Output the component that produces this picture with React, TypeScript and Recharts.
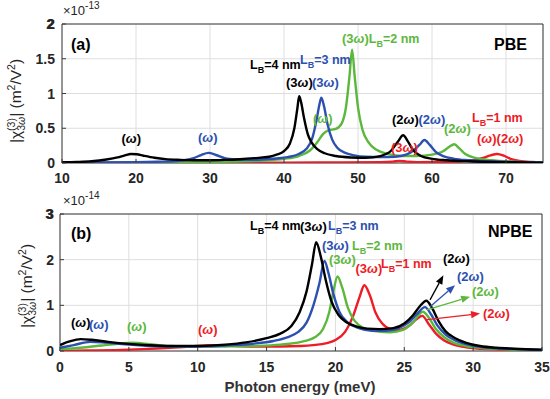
import React from 'react';
import { LineChart, Line, XAxis, YAxis, CartesianGrid, ReferenceArea, ReferenceLine } from 'recharts';

const FONT = '"Liberation Sans", Arial, Helvetica, sans-serif';
const BLACK = '#000000';
const BLUE = '#2b50b0';
const GREEN = '#5cb83c';
const RED = '#ee1c25';
const AXIS = '#3a3a3a';

// ---------- Panel (a) PBE : photon energy (meV) vs |chi| (x1e-13 m^2/V^2)
const pbeXTicks = [10, 20, 30, 40, 50, 60, 70];
const pbeYTicks = [0, 0.5, 1, 1.5, 2];

const pbeL4: [number, number][] = [
  [10, 0.01], [12, 0.015], [14, 0.025], [16, 0.05], [17.5, 0.08], [18.5, 0.11], [19.3, 0.13], [20.1, 0.125],
  [21, 0.105], [22.5, 0.075], [24, 0.055], [26, 0.045], [28, 0.04], [30, 0.04], [32, 0.045], [34, 0.055],
  [36, 0.07], [38, 0.09], [39, 0.12], [40, 0.17], [40.8, 0.28], [41.4, 0.5], [41.8, 0.78], [42.05, 0.96],
  [42.3, 0.88], [42.7, 0.65], [43.2, 0.42], [43.7, 0.3], [44.5, 0.2], [45.5, 0.14], [47, 0.1], [49, 0.08],
  [51, 0.075], [53, 0.1], [54.5, 0.18], [55.4, 0.31], [56.1, 0.4], [56.8, 0.3], [57.5, 0.18], [58.5, 0.1],
  [60, 0.06], [62, 0.04], [65, 0.025], [70, 0.012], [75, 0.005],
];
const pbeL3: [number, number][] = [
  [10, 0.005], [15, 0.008], [20, 0.012], [23, 0.018], [25, 0.025], [26.5, 0.04], [27.8, 0.07], [28.8, 0.115],
  [29.8, 0.145], [30.8, 0.115], [32, 0.07], [33.5, 0.05], [35, 0.045], [37, 0.05], [39, 0.065], [40.5, 0.085],
  [42, 0.13], [43, 0.2], [43.8, 0.35], [44.4, 0.62], [44.8, 0.85], [45.05, 0.94], [45.4, 0.82], [45.9, 0.55],
  [46.5, 0.34], [47.2, 0.22], [48.2, 0.15], [49.5, 0.11], [51, 0.09], [53, 0.085], [55, 0.09], [56.5, 0.12],
  [57.5, 0.18], [58.3, 0.26], [59, 0.33], [59.7, 0.26], [60.5, 0.16], [61.5, 0.1], [63, 0.06], [65, 0.04],
  [68, 0.025], [71, 0.015], [75, 0.008],
];
const pbeL2: [number, number][] = [
  [10, 0.003], [20, 0.006], [28, 0.012], [33, 0.02], [37, 0.035], [40, 0.06], [42, 0.1], [43.5, 0.18],
  [44.5, 0.3], [45.3, 0.42], [46, 0.47], [47, 0.49], [47.8, 0.57], [48.4, 0.82], [48.85, 1.25], [49.2, 1.63],
  [49.55, 1.25], [50, 0.8], [50.6, 0.48], [51.4, 0.3], [52.5, 0.19], [54, 0.13], [56, 0.1], [58, 0.1],
  [60, 0.12], [61.5, 0.17], [62.3, 0.23], [63, 0.27], [63.7, 0.21], [64.5, 0.13], [66, 0.07], [68, 0.04],
  [71, 0.02], [75, 0.01],
];
const pbeL1: [number, number][] = [
  [10, 0.001], [30, 0.003], [40, 0.005], [48, 0.008], [53, 0.012], [54.7, 0.02], [55.6, 0.03], [56.6, 0.02],
  [58, 0.013], [61, 0.014], [63.5, 0.022], [65.5, 0.04], [66.8, 0.07], [67.9, 0.11], [68.8, 0.13], [69.7, 0.105],
  [70.6, 0.06], [71.8, 0.03], [73.5, 0.015], [75, 0.01],
];

// ---------- Panel (b) NPBE : photon energy (meV) vs |chi| (x1e-14 m^2/V^2)
const npbeXTicks = [0, 5, 10, 15, 20, 25, 30, 35];
const npbeYTicks = [0, 1, 2, 3];

const npbeL4: [number, number][] = [
  [0, 0.13], [0.7, 0.21], [1.5, 0.26], [2.3, 0.245], [3.5, 0.2], [5, 0.155], [6.5, 0.125], [8, 0.11],
  [10, 0.11], [12, 0.14], [13.5, 0.19], [15, 0.28], [16, 0.38], [16.8, 0.55], [17.4, 0.85], [17.9, 1.3],
  [18.3, 1.9], [18.6, 2.38], [18.95, 2.05], [19.3, 1.55], [19.7, 1.1], [20.2, 0.8], [20.8, 0.63], [21.5, 0.54],
  [22.3, 0.49], [23.2, 0.48], [24.2, 0.5], [25, 0.6], [25.6, 0.77], [26.1, 0.97], [26.6, 1.1], [27.0, 0.95],
  [27.5, 0.65], [28, 0.43], [28.7, 0.28], [29.5, 0.18], [30.5, 0.11], [31.7, 0.07], [33, 0.05], [35, 0.03],
];
const npbeL3: [number, number][] = [
  [0, 0.07], [1, 0.13], [2.2, 0.2], [3.2, 0.185], [4.5, 0.15], [6, 0.12], [8, 0.1], [10, 0.1],
  [12, 0.12], [14, 0.16], [15.5, 0.22], [16.5, 0.3], [17.3, 0.42], [17.9, 0.62], [18.4, 1.0], [18.85, 1.5],
  [19.2, 1.97], [19.5, 1.7], [19.85, 1.25], [20.3, 0.85], [20.9, 0.62], [21.7, 0.5], [22.7, 0.44], [23.7, 0.44],
  [24.6, 0.5], [25.3, 0.62], [25.9, 0.8], [26.5, 0.96], [26.95, 0.8], [27.4, 0.56], [28, 0.36], [28.7, 0.23],
  [29.5, 0.15], [30.5, 0.09], [32, 0.055], [35, 0.025],
];
const npbeL2: [number, number][] = [
  [0, 0.04], [1.5, 0.07], [3, 0.12], [4.2, 0.16], [5.3, 0.18], [6.5, 0.15], [8, 0.11], [10, 0.095],
  [12, 0.1], [14, 0.11], [16, 0.14], [17.5, 0.2], [18.5, 0.3], [19.1, 0.48], [19.55, 0.85], [19.85, 1.3],
  [20.15, 1.63], [20.5, 1.38], [20.9, 0.95], [21.4, 0.66], [22.1, 0.5], [23, 0.43], [24, 0.41], [24.9, 0.46],
  [25.6, 0.62], [26.35, 0.86], [26.85, 0.7], [27.3, 0.48], [27.9, 0.3], [28.6, 0.18], [29.5, 0.11], [30.5, 0.07],
  [32, 0.04], [35, 0.02],
];
const npbeL1: [number, number][] = [
  [0, 0.0], [2, 0.01], [4, 0.02], [6, 0.04], [8, 0.07], [9.5, 0.1], [10.8, 0.125], [12, 0.12],
  [14, 0.1], [16, 0.1], [17.5, 0.11], [19, 0.15], [20, 0.24], [20.7, 0.42], [21.3, 0.78], [21.75, 1.18],
  [22.1, 1.44], [22.5, 1.22], [22.9, 0.85], [23.4, 0.6], [24, 0.48], [24.6, 0.46], [25.3, 0.54], [25.9, 0.7],
  [26.3, 0.77], [26.8, 0.58], [27.3, 0.38], [27.9, 0.23], [28.6, 0.14], [29.5, 0.08], [31, 0.04], [35, 0.01],
];

// arrows in panel (b): [x1, y1, x2, y2]
const npbeArrowBlack = [26.87, 1.12, 27.84, 1.66];
const npbeArrowBlue = [26.87, 0.97, 28.69, 1.44];
const npbeArrowGreen = [26.63, 0.9, 29.78, 1.19];
const npbeArrowRed = [26.5, 0.68, 30.5, 0.82];

const toPts = (arr: [number, number][]) => arr.map(([x, y]) => ({ x, y }));

function ArrowShape(props: any) {
  const x1 = Number(props.x1), y1 = Number(props.y1), x2 = Number(props.x2), y2 = Number(props.y2);
  const stroke = props.stroke;
  const ang = Math.atan2(y2 - y1, x2 - x1);
  const L = 9, W = 3.6;
  const bx = x2 - L * Math.cos(ang), by = y2 - L * Math.sin(ang);
  const p1x = bx + W * Math.sin(ang), p1y = by - W * Math.cos(ang);
  const p2x = bx - W * Math.sin(ang), p2y = by + W * Math.cos(ang);
  return (
    <g>
      <line x1={x1} y1={y1} x2={bx} y2={by} stroke={stroke} strokeWidth={1.3} />
      <polygon points={`${x2},${y2} ${p1x},${p1y} ${p2x},${p2y}`} fill={stroke} />
    </g>
  );
}

const fmt = (v: number) => String(Math.round(v * 100) / 100);

function XTick(props: any) {
  const { x, y, payload } = props;
  return (
    <text x={x} y={y} dy={10} textAnchor="middle" fontFamily={FONT} fontSize={14} fontWeight={700} fill="#262626">
      {fmt(payload.value)}
    </text>
  );
}

function YTick(props: any) {
  const { x, y, payload } = props;
  return (
    <text x={x} y={y} dy={5} textAnchor="end" fontFamily={FONT} fontSize={14} fontWeight={700} fill="#262626">
      {fmt(payload.value)}
    </text>
  );
}

const NoTick = () => null;

type Series = { data: [number, number][]; color: string; name: string };

function Panel(props: {
  height: number; xDomain: [number, number]; xTicks: number[]; yDomain: [number, number]; yTicks: number[];
  yWidth: number; right: number; xHeight: number; xTickMargin: number; yTickMargin: number;
  series: Series[]; arrows?: { a: number[]; color: string }[];
}) {
  const { height, xDomain, xTicks, yDomain, yTicks, yWidth, right, xHeight, xTickMargin, yTickMargin, series, arrows } = props;
  const topTick = yTicks[yTicks.length - 1];
  return (
    <LineChart width={550} height={height} margin={{ top: 24, right, bottom: 0, left: 0 }}>
      <CartesianGrid stroke="#dedede" strokeWidth={1} />
      <XAxis
        type="number" dataKey="x" domain={xDomain} ticks={xTicks} height={xHeight} allowDataOverflow
        axisLine={false} tickLine={{ stroke: AXIS }} tickSize={-4} tick={XTick} tickMargin={xTickMargin + 10} interval={0}
      />
      <XAxis
        xAxisId="top" orientation="top" type="number" dataKey="x" domain={xDomain} ticks={xTicks} height={0} allowDataOverflow
        axisLine={false} tickLine={{ stroke: AXIS }} tickSize={-4} tick={NoTick} interval={0}
      />
      <YAxis
        type="number" domain={yDomain} ticks={yTicks} width={yWidth} allowDataOverflow
        axisLine={false} tickLine={{ stroke: AXIS }} tickSize={-4} tick={YTick} tickMargin={yTickMargin + 10} interval={0}
      />
      <YAxis
        yAxisId="right" orientation="right" type="number" domain={yDomain} ticks={yTicks} width={0} allowDataOverflow
        axisLine={false} tickLine={{ stroke: AXIS }} tickSize={-4} tick={NoTick} interval={0}
      />
      <ReferenceArea x1={xDomain[0]} x2={xDomain[1]} y1={yDomain[0]} y2={yDomain[1]} fill="none" stroke={AXIS} strokeWidth={1} fillOpacity={0} />
      <ReferenceLine
        y={topTick} stroke="none" ifOverflow="visible"
        label={{ value: fmt(topTick), position: 'left', offset: 7 + yTickMargin - 1 + 1, fill: '#262626', fontSize: 14, fontWeight: 700, fontFamily: FONT }}
      />
      {series.map((s) => (
        <Line
          key={s.name} name={s.name} data={toPts(s.data)} dataKey="y" type="monotone" stroke={s.color}
          strokeWidth={2.4} dot={false} activeDot={false} isAnimationActive={false}
        />
      ))}
      {(arrows || []).map((ar, i) => (
        <ReferenceLine
          key={i}
          segment={[{ x: ar.a[0], y: ar.a[1] }, { x: ar.a[2], y: ar.a[3] }]}
          stroke={ar.color}
          shape={ArrowShape}
        />
      ))}
    </LineChart>
  );
}

function Omega() {
  return <tspan fontStyle="italic">ω</tspan>;
}

function Paren({ n }: { n?: string }) {
  return (
    <>
      <tspan>({n || ''}</tspan>
      <Omega />
      <tspan>)</tspan>
    </>
  );
}

function LB({ v }: { v: string }) {
  return (
    <>
      <tspan fontSize={12.5}>L</tspan>
      <tspan dy={4} fontSize={9}>B</tspan>
      <tspan dy={-4} fontSize={12.5}>={v} nm</tspan>
    </>
  );
}

function Ann({ x, y, color, children }: { x: number; y: number; color: string; children: React.ReactNode }) {
  return (
    <text x={x} y={y} fontFamily={FONT} fontSize={13} fontWeight={700} fill={color}>
      {children}
    </text>
  );
}

function YLabel({ x, y }: { x: number; y: number }) {
  return (
    <text transform={`translate(${x},${y}) rotate(-90)`} textAnchor="middle" fontFamily={FONT} fontSize={15.5} fill="#262626">
      <tspan>|χ</tspan>
      <tspan dy={-6} fontSize={10.5}>(3)</tspan>
      <tspan dx={-12.8} dy={10} fontSize={10.5}>3</tspan>
      <tspan fontSize={10.5} fontStyle="italic">ω</tspan>
      <tspan dy={-4}>| (m</tspan>
      <tspan dy={-6} fontSize={10.5}>2</tspan>
      <tspan dy={6}>/V</tspan>
      <tspan dy={-6} fontSize={10.5}>2</tspan>
      <tspan dy={6}>)</tspan>
    </text>
  );
}

function Exponent({ x, y, e }: { x: number; y: number; e: string }) {
  return (
    <text x={x} y={y} fontFamily={FONT} fontSize={13} fill="#262626">
      <tspan>×10</tspan>
      <tspan dy={-6} fontSize={10}>{e}</tspan>
    </text>
  );
}

export default function App() {
  return (
    <div style={{ position: 'absolute', left: 0, top: 0, width: 550, height: 399, background: '#ffffff', overflow: 'hidden' }}>
      <div style={{ position: 'absolute', left: 0, top: 0 }}>
        <Panel
          height={190} xDomain={[10, 75]} xTicks={pbeXTicks} yDomain={[0, 2]} yTicks={pbeYTicks}
          yWidth={62} right={7} xHeight={27} xTickMargin={4} yTickMargin={1}
          series={[
            { name: 'LB=1 nm', data: pbeL1, color: RED },
            { name: 'LB=2 nm', data: pbeL2, color: GREEN },
            { name: 'LB=3 nm', data: pbeL3, color: BLUE },
            { name: 'LB=4 nm', data: pbeL4, color: BLACK },
          ]}
        />
      </div>
      <div style={{ position: 'absolute', left: 0, top: 190 }}>
        <Panel
          height={209} xDomain={[0, 35]} xTicks={npbeXTicks} yDomain={[0, 3]} yTicks={npbeYTicks}
          yWidth={60} right={8} xHeight={48} xTickMargin={5} yTickMargin={0}
          series={[
            { name: 'LB=1 nm', data: npbeL1, color: RED },
            { name: 'LB=2 nm', data: npbeL2, color: GREEN },
            { name: 'LB=3 nm', data: npbeL3, color: BLUE },
            { name: 'LB=4 nm', data: npbeL4, color: BLACK },
          ]}
          arrows={[
            { a: npbeArrowBlack, color: BLACK },
            { a: npbeArrowBlue, color: BLUE },
            { a: npbeArrowGreen, color: GREEN },
            { a: npbeArrowRed, color: RED },
          ]}
        />
      </div>
      <svg width={550} height={399} style={{ position: 'absolute', left: 0, top: 0, pointerEvents: 'none' }}>
        {/* panel (a) */}
        <Exponent x={63} y={15} e="-13" />
        <YLabel x={21} y={101} />
        <text x={71} y={50} fontFamily={FONT} fontSize={16} fontWeight={700} fill="#000">(a)</text>
        <text x={494} y={49.5} fontFamily={FONT} fontSize={16} fontWeight={700} fill="#000">PBE</text>
        <Ann x={121.5} y={142.5} color={BLACK}><Paren /></Ann>
        <Ann x={198} y={141.5} color={BLUE}><Paren /></Ann>
        <Ann x={250} y={69} color={BLACK}><LB v="4" /></Ann>
        <Ann x={300} y={64} color={BLUE}><LB v="3" /></Ann>
        <Ann x={286} y={87} color={BLACK}><Paren n="3" /></Ann>
        <Ann x={312} y={87} color={BLUE}><Paren n="3" /></Ann>
        <Ann x={342} y={43} color={GREEN}><Paren n="3" /><LB v="2" /></Ann>
        <Ann x={313} y={122.5} color={GREEN}><Paren /></Ann>
        <Ann x={392} y={124} color={BLACK}><Paren n="2" /></Ann>
        <Ann x={418.5} y={124} color={BLUE}><Paren n="2" /></Ann>
        <Ann x={444} y={133} color={GREEN}><Paren n="2" /></Ann>
        <Ann x={391} y={152} color={RED}><Paren n="3" /></Ann>
        <Ann x={472} y={121.5} color={RED}><LB v="1" /></Ann>
        <Ann x={477} y={143} color={RED}><Paren /><Paren n="2" /></Ann>

        {/* panel (b) */}
        <Exponent x={63} y={205} e="-14" />
        <YLabel x={32} y={286} />
        <text x={71} y={239} fontFamily={FONT} fontSize={16} fontWeight={700} fill="#000">(b)</text>
        <text x={488} y={237} fontFamily={FONT} fontSize={16} fontWeight={700} fill="#000">NPBE</text>
        <Ann x={250} y={230} color={BLACK}><LB v="4" /></Ann>
        <Ann x={300} y={230.5} color={BLACK}><Paren n="3" /></Ann>
        <Ann x={328} y={230} color={BLUE}><LB v="3" /></Ann>
        <Ann x={322} y={250} color={BLUE}><Paren n="3" /></Ann>
        <Ann x={352} y={250} color={GREEN}><LB v="2" /></Ann>
        <Ann x={329} y={264} color={GREEN}><Paren n="3" /></Ann>
        <Ann x={355.5} y={272.5} color={RED}><Paren n="3" /></Ann>
        <Ann x={381} y={268} color={RED}><LB v="1" /></Ann>
        <Ann x={443} y={263} color={BLACK}><Paren n="2" /></Ann>
        <Ann x={457} y={281} color={BLUE}><Paren n="2" /></Ann>
        <Ann x={472} y={296} color={GREEN}><Paren n="2" /></Ann>
        <Ann x={483} y={318} color={RED}><Paren n="2" /></Ann>
        <Ann x={71} y={327} color={BLACK}><Paren /></Ann>
        <Ann x={89} y={329} color={BLUE}><Paren /></Ann>
        <Ann x={127} y={331} color={GREEN}><Paren /></Ann>
        <Ann x={198} y={334} color={RED}><Paren /></Ann>

        <text x={300} y={392} textAnchor="middle" fontFamily={FONT} fontSize={15} fontWeight={700} fill="#333">
          Photon energy (meV)
        </text>
      </svg>
    </div>
  );
}
